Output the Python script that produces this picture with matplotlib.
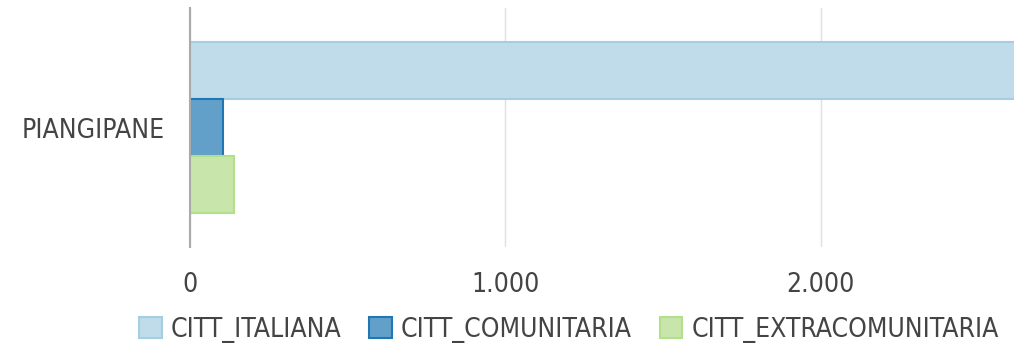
import matplotlib.pyplot as plt
from matplotlib.patches import Patch

# Residenti per cittadinanza
zone = ["PIANGIPANE"]
serie = ["CITT_ITALIANA", "CITT_COMUNITARIA", "CITT_EXTRACOMUNITARIA"]
valori = [2700, 105, 140]
riempimento = ["#c0dcea", "#62a0ca", "#c8e6ac"]
bordo = ["#a6cee3", "#1f78b4", "#b2df8a"]
ticks = [0, 1000, 2000]
tick_labels = ["0", "1.000", "2.000"]

plt.rcParams["font.family"] = ["DejaVu Sans"]
plt.rcParams["font.stretch"] = "condensed"

fig = plt.figure(figsize=(10.14, 3.51), dpi=100)
ax = fig.add_axes([190 / 1014, 1 - 247 / 351, 1 - 190 / 1014, 239 / 351])

h = 57 / 239 * 1.0
for i, (s, v) in enumerate(zip(serie, valori)):
    ax.barh(0 + (i - 1) * h, v, height=h, color=riempimento[i],
            edgecolor=bordo[i], linewidth=1.5)

ax.set_ylim(0.5, -0.5)
ax.set_xlim(0, 2612)
ax.set_yticks([0])
ax.set_yticklabels(zone, fontsize=19, color="#444444")
ax.set_xticks(ticks)
ax.set_xticklabels(tick_labels, fontsize=19, color="#444444")
ax.tick_params(length=0)
ax.tick_params(axis="x", pad=18)
ax.tick_params(axis="y", pad=18)
ax.grid(axis="x", color="#e0e0e0", linewidth=1)
ax.set_axisbelow(True)
for sp in ["top", "right", "bottom"]:
    ax.spines[sp].set_visible(False)
ax.spines["left"].set_color("#aaaaaa")
ax.spines["left"].set_linewidth(1.5)
ax.spines["left"].set_zorder(5)

maniglie = [Patch(facecolor=riempimento[i], edgecolor=bordo[i], linewidth=1.5)
            for i in range(3)]
fig.legend(maniglie, serie, loc="center", bbox_to_anchor=(569 / 1014, 1 - 330 / 351),
           ncol=3, frameon=False, fontsize=19, handlelength=0.85, handleheight=0.85,
           handletextpad=0.35, columnspacing=1.05, labelcolor="#444444")

fig.savefig("out.png", dpi=100)
